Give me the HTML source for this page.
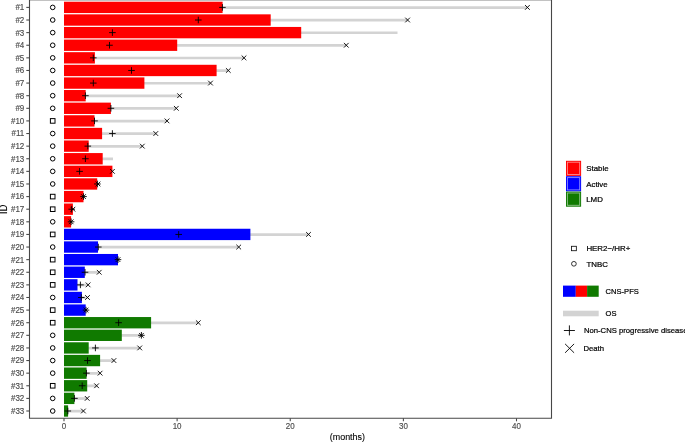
<!DOCTYPE html>
<html><head><meta charset="utf-8"><style>
html,body{margin:0;padding:0;background:#fff;width:685px;height:443px;overflow:hidden}
svg{display:block}
.tx{opacity:0.999}
text{font-family:"Liberation Sans",sans-serif}
.t{font-size:8px;fill:#4D4D4D;stroke:#4D4D4D;stroke-width:0.15px}
.l{font-size:7.9px;fill:#000;stroke:#000;stroke-width:0.22px}
.ti{font-size:9.6px;fill:#000;stroke:#000;stroke-width:0.12px}
</style></head><body>
<svg width="685" height="443" viewBox="0 0 685 443">
<line x1="64" y1="7.55" x2="527.4" y2="7.55" stroke="#D3D3D3" stroke-width="2.7"/>
<line x1="64" y1="20.16" x2="407.6" y2="20.16" stroke="#D3D3D3" stroke-width="2.7"/>
<line x1="64" y1="32.77" x2="397.5" y2="32.77" stroke="#D3D3D3" stroke-width="2.7"/>
<line x1="64" y1="45.39" x2="346.3" y2="45.39" stroke="#D3D3D3" stroke-width="2.7"/>
<line x1="64" y1="58" x2="244" y2="58" stroke="#D3D3D3" stroke-width="2.7"/>
<line x1="64" y1="70.61" x2="228.3" y2="70.61" stroke="#D3D3D3" stroke-width="2.7"/>
<line x1="64" y1="83.23" x2="210.5" y2="83.23" stroke="#D3D3D3" stroke-width="2.7"/>
<line x1="64" y1="95.84" x2="179.6" y2="95.84" stroke="#D3D3D3" stroke-width="2.7"/>
<line x1="64" y1="108.45" x2="176.3" y2="108.45" stroke="#D3D3D3" stroke-width="2.7"/>
<line x1="64" y1="121.06" x2="167" y2="121.06" stroke="#D3D3D3" stroke-width="2.7"/>
<line x1="64" y1="133.68" x2="155.8" y2="133.68" stroke="#D3D3D3" stroke-width="2.7"/>
<line x1="64" y1="146.29" x2="142.3" y2="146.29" stroke="#D3D3D3" stroke-width="2.7"/>
<line x1="64" y1="158.9" x2="113" y2="158.9" stroke="#D3D3D3" stroke-width="2.7"/>
<line x1="64" y1="171.51" x2="112.4" y2="171.51" stroke="#D3D3D3" stroke-width="2.7"/>
<line x1="64" y1="184.13" x2="98" y2="184.13" stroke="#D3D3D3" stroke-width="2.7"/>
<line x1="64" y1="196.74" x2="83.5" y2="196.74" stroke="#D3D3D3" stroke-width="2.7"/>
<line x1="64" y1="209.35" x2="72.9" y2="209.35" stroke="#D3D3D3" stroke-width="2.7"/>
<line x1="64" y1="221.96" x2="71.1" y2="221.96" stroke="#D3D3D3" stroke-width="2.7"/>
<line x1="64" y1="234.58" x2="308.5" y2="234.58" stroke="#D3D3D3" stroke-width="2.7"/>
<line x1="64" y1="247.19" x2="238.7" y2="247.19" stroke="#D3D3D3" stroke-width="2.7"/>
<line x1="64" y1="259.8" x2="118" y2="259.8" stroke="#D3D3D3" stroke-width="2.7"/>
<line x1="64" y1="272.41" x2="99.2" y2="272.41" stroke="#D3D3D3" stroke-width="2.7"/>
<line x1="64" y1="285.02" x2="88.1" y2="285.02" stroke="#D3D3D3" stroke-width="2.7"/>
<line x1="64" y1="297.64" x2="87.5" y2="297.64" stroke="#D3D3D3" stroke-width="2.7"/>
<line x1="64" y1="310.25" x2="86" y2="310.25" stroke="#D3D3D3" stroke-width="2.7"/>
<line x1="64" y1="322.86" x2="198.3" y2="322.86" stroke="#D3D3D3" stroke-width="2.7"/>
<line x1="64" y1="335.47" x2="141.4" y2="335.47" stroke="#D3D3D3" stroke-width="2.7"/>
<line x1="64" y1="348.09" x2="139.7" y2="348.09" stroke="#D3D3D3" stroke-width="2.7"/>
<line x1="64" y1="360.7" x2="113.9" y2="360.7" stroke="#D3D3D3" stroke-width="2.7"/>
<line x1="64" y1="373.31" x2="100.1" y2="373.31" stroke="#D3D3D3" stroke-width="2.7"/>
<line x1="64" y1="385.92" x2="96.6" y2="385.92" stroke="#D3D3D3" stroke-width="2.7"/>
<line x1="64" y1="398.54" x2="87.2" y2="398.54" stroke="#D3D3D3" stroke-width="2.7"/>
<line x1="64" y1="411.15" x2="83.4" y2="411.15" stroke="#D3D3D3" stroke-width="2.7"/>
<rect x="64" y="1.72" width="158.6" height="11.35" fill="#FF0000"/>
<rect x="64" y="14.34" width="206.7" height="11.35" fill="#FF0000"/>
<rect x="64" y="26.95" width="237.2" height="11.35" fill="#FF0000"/>
<rect x="64" y="39.56" width="113.2" height="11.35" fill="#FF0000"/>
<rect x="64" y="52.17" width="30.9" height="11.35" fill="#FF0000"/>
<rect x="64" y="64.79" width="152.6" height="11.35" fill="#FF0000"/>
<rect x="64" y="77.4" width="80.4" height="11.35" fill="#FF0000"/>
<rect x="64" y="90.01" width="21.7" height="11.35" fill="#FF0000"/>
<rect x="64" y="102.62" width="46.9" height="11.35" fill="#FF0000"/>
<rect x="64" y="115.24" width="30.5" height="11.35" fill="#FF0000"/>
<rect x="64" y="127.85" width="38.1" height="11.35" fill="#FF0000"/>
<rect x="64" y="140.46" width="24.7" height="11.35" fill="#FF0000"/>
<rect x="64" y="153.07" width="38.7" height="11.35" fill="#FF0000"/>
<rect x="64" y="165.69" width="48.4" height="11.35" fill="#FF0000"/>
<rect x="64" y="178.3" width="33.2" height="11.35" fill="#FF0000"/>
<rect x="64" y="190.91" width="19.5" height="11.35" fill="#FF0000"/>
<rect x="64" y="203.52" width="8.9" height="11.35" fill="#FF0000"/>
<rect x="64" y="216.14" width="7.1" height="11.35" fill="#FF0000"/>
<rect x="64" y="228.75" width="186.4" height="11.35" fill="#0000FF"/>
<rect x="64" y="241.36" width="34" height="11.35" fill="#0000FF"/>
<rect x="64" y="253.97" width="54" height="11.35" fill="#0000FF"/>
<rect x="64" y="266.59" width="20.8" height="11.35" fill="#0000FF"/>
<rect x="64" y="279.2" width="13.5" height="11.35" fill="#0000FF"/>
<rect x="64" y="291.81" width="17.9" height="11.35" fill="#0000FF"/>
<rect x="64" y="304.42" width="21.7" height="11.35" fill="#0000FF"/>
<rect x="64" y="317.04" width="87.1" height="11.35" fill="#107A00"/>
<rect x="64" y="329.65" width="57.8" height="11.35" fill="#107A00"/>
<rect x="64" y="342.26" width="24.7" height="11.35" fill="#107A00"/>
<rect x="64" y="354.87" width="36.1" height="11.35" fill="#107A00"/>
<rect x="64" y="367.49" width="22.6" height="11.35" fill="#107A00"/>
<rect x="64" y="380.1" width="23.2" height="11.35" fill="#107A00"/>
<rect x="64" y="392.71" width="10.4" height="11.35" fill="#107A00"/>
<rect x="64" y="405.32" width="4.1" height="11.35" fill="#107A00"/>
<path d="M219.1 7.4H225.7M222.4 4.1V10.7" stroke="#000" stroke-width="0.9" fill="none"/>
<path d="M525.05 5.05L529.75 9.75M525.05 9.75L529.75 5.05" stroke="#000" stroke-width="0.9" fill="none"/>
<circle cx="52.7" cy="7.4" r="2.3" stroke="#000" stroke-width="1" fill="none"/>
<path d="M195 20.01H201.6M198.3 16.71V23.31" stroke="#000" stroke-width="0.9" fill="none"/>
<path d="M405.25 17.66L409.95 22.36M405.25 22.36L409.95 17.66" stroke="#000" stroke-width="0.9" fill="none"/>
<circle cx="52.7" cy="20.01" r="2.3" stroke="#000" stroke-width="1" fill="none"/>
<path d="M109.1 32.62H115.7M112.4 29.32V35.92" stroke="#000" stroke-width="0.9" fill="none"/>
<circle cx="52.7" cy="32.62" r="2.3" stroke="#000" stroke-width="1" fill="none"/>
<path d="M106.2 45.24H112.8M109.5 41.94V48.54" stroke="#000" stroke-width="0.9" fill="none"/>
<path d="M343.95 42.89L348.65 47.59M343.95 47.59L348.65 42.89" stroke="#000" stroke-width="0.9" fill="none"/>
<circle cx="52.7" cy="45.24" r="2.3" stroke="#000" stroke-width="1" fill="none"/>
<path d="M90 57.85H96.6M93.3 54.55V61.15" stroke="#000" stroke-width="0.9" fill="none"/>
<path d="M241.65 55.5L246.35 60.2M241.65 60.2L246.35 55.5" stroke="#000" stroke-width="0.9" fill="none"/>
<circle cx="52.7" cy="57.85" r="2.3" stroke="#000" stroke-width="1" fill="none"/>
<path d="M128.2 70.46H134.8M131.5 67.16V73.76" stroke="#000" stroke-width="0.9" fill="none"/>
<path d="M225.95 68.11L230.65 72.81M225.95 72.81L230.65 68.11" stroke="#000" stroke-width="0.9" fill="none"/>
<circle cx="52.7" cy="70.46" r="2.3" stroke="#000" stroke-width="1" fill="none"/>
<path d="M90 83.08H96.6M93.3 79.78V86.38" stroke="#000" stroke-width="0.9" fill="none"/>
<path d="M208.15 80.73L212.85 85.43M208.15 85.43L212.85 80.73" stroke="#000" stroke-width="0.9" fill="none"/>
<circle cx="52.7" cy="83.08" r="2.3" stroke="#000" stroke-width="1" fill="none"/>
<path d="M82.1 95.69H88.7M85.4 92.39V98.99" stroke="#000" stroke-width="0.9" fill="none"/>
<path d="M177.25 93.34L181.95 98.04M177.25 98.04L181.95 93.34" stroke="#000" stroke-width="0.9" fill="none"/>
<circle cx="52.7" cy="95.69" r="2.3" stroke="#000" stroke-width="1" fill="none"/>
<path d="M107.6 108.3H114.2M110.9 105V111.6" stroke="#000" stroke-width="0.9" fill="none"/>
<path d="M173.95 105.95L178.65 110.65M173.95 110.65L178.65 105.95" stroke="#000" stroke-width="0.9" fill="none"/>
<circle cx="52.7" cy="108.3" r="2.3" stroke="#000" stroke-width="1" fill="none"/>
<path d="M91.2 120.91H97.8M94.5 117.61V124.21" stroke="#000" stroke-width="0.9" fill="none"/>
<path d="M164.65 118.56L169.35 123.26M164.65 123.26L169.35 118.56" stroke="#000" stroke-width="0.9" fill="none"/>
<rect x="50.4" y="118.61" width="4.6" height="4.6" stroke="#000" stroke-width="1" fill="none"/>
<path d="M109.1 133.53H115.7M112.4 130.22V136.83" stroke="#000" stroke-width="0.9" fill="none"/>
<path d="M153.45 131.18L158.15 135.88M153.45 135.88L158.15 131.18" stroke="#000" stroke-width="0.9" fill="none"/>
<circle cx="52.7" cy="133.53" r="2.3" stroke="#000" stroke-width="1" fill="none"/>
<path d="M84.5 146.14H91.1M87.8 142.84V149.44" stroke="#000" stroke-width="0.9" fill="none"/>
<path d="M139.95 143.79L144.65 148.49M139.95 148.49L144.65 143.79" stroke="#000" stroke-width="0.9" fill="none"/>
<circle cx="52.7" cy="146.14" r="2.3" stroke="#000" stroke-width="1" fill="none"/>
<path d="M82.1 158.75H88.7M85.4 155.45V162.05" stroke="#000" stroke-width="0.9" fill="none"/>
<circle cx="52.7" cy="158.75" r="2.3" stroke="#000" stroke-width="1" fill="none"/>
<path d="M76.3 171.36H82.9M79.6 168.06V174.66" stroke="#000" stroke-width="0.9" fill="none"/>
<path d="M110.05 169.01L114.75 173.71M110.05 173.71L114.75 169.01" stroke="#000" stroke-width="0.9" fill="none"/>
<circle cx="52.7" cy="171.36" r="2.3" stroke="#000" stroke-width="1" fill="none"/>
<path d="M94.1 183.98H100.7M97.4 180.68V187.28" stroke="#000" stroke-width="0.9" fill="none"/>
<path d="M95.65 181.63L100.35 186.33M95.65 186.33L100.35 181.63" stroke="#000" stroke-width="0.9" fill="none"/>
<circle cx="52.7" cy="183.98" r="2.3" stroke="#000" stroke-width="1" fill="none"/>
<path d="M80.2 196.59H86.8M83.5 193.29V199.89" stroke="#000" stroke-width="0.9" fill="none"/>
<path d="M81.15 194.24L85.85 198.94M81.15 198.94L85.85 194.24" stroke="#000" stroke-width="0.9" fill="none"/>
<rect x="50.4" y="194.29" width="4.6" height="4.6" stroke="#000" stroke-width="1" fill="none"/>
<path d="M68.4 209.2H75M71.7 205.9V212.5" stroke="#000" stroke-width="0.9" fill="none"/>
<path d="M70.55 206.85L75.25 211.55M70.55 211.55L75.25 206.85" stroke="#000" stroke-width="0.9" fill="none"/>
<rect x="50.4" y="206.9" width="4.6" height="4.6" stroke="#000" stroke-width="1" fill="none"/>
<path d="M67.8 221.81H74.4M71.1 218.51V225.11" stroke="#000" stroke-width="0.9" fill="none"/>
<path d="M68.75 219.46L73.45 224.16M68.75 224.16L73.45 219.46" stroke="#000" stroke-width="0.9" fill="none"/>
<circle cx="52.7" cy="221.81" r="2.3" stroke="#000" stroke-width="1" fill="none"/>
<path d="M175.4 234.43H182M178.7 231.12V237.73" stroke="#000" stroke-width="0.9" fill="none"/>
<path d="M306.15 232.08L310.85 236.78M306.15 236.78L310.85 232.08" stroke="#000" stroke-width="0.9" fill="none"/>
<rect x="50.4" y="232.12" width="4.6" height="4.6" stroke="#000" stroke-width="1" fill="none"/>
<path d="M95 247.04H101.6M98.3 243.74V250.34" stroke="#000" stroke-width="0.9" fill="none"/>
<path d="M236.35 244.69L241.05 249.39M236.35 249.39L241.05 244.69" stroke="#000" stroke-width="0.9" fill="none"/>
<circle cx="52.7" cy="247.04" r="2.3" stroke="#000" stroke-width="1" fill="none"/>
<path d="M114.7 259.65H121.3M118 256.35V262.95" stroke="#000" stroke-width="0.9" fill="none"/>
<path d="M115.65 257.3L120.35 262M115.65 262L120.35 257.3" stroke="#000" stroke-width="0.9" fill="none"/>
<rect x="50.4" y="257.35" width="4.6" height="4.6" stroke="#000" stroke-width="1" fill="none"/>
<path d="M81.7 272.26H88.3M85 268.96V275.56" stroke="#000" stroke-width="0.9" fill="none"/>
<path d="M96.85 269.91L101.55 274.61M96.85 274.61L101.55 269.91" stroke="#000" stroke-width="0.9" fill="none"/>
<rect x="50.4" y="269.96" width="4.6" height="4.6" stroke="#000" stroke-width="1" fill="none"/>
<path d="M77.1 284.88H83.7M80.4 281.57V288.18" stroke="#000" stroke-width="0.9" fill="none"/>
<path d="M85.75 282.52L90.45 287.23M85.75 287.23L90.45 282.52" stroke="#000" stroke-width="0.9" fill="none"/>
<rect x="50.4" y="282.57" width="4.6" height="4.6" stroke="#000" stroke-width="1" fill="none"/>
<path d="M78 297.49H84.6M81.3 294.19V300.79" stroke="#000" stroke-width="0.9" fill="none"/>
<path d="M85.15 295.14L89.85 299.84M85.15 299.84L89.85 295.14" stroke="#000" stroke-width="0.9" fill="none"/>
<circle cx="52.7" cy="297.49" r="2.3" stroke="#000" stroke-width="1" fill="none"/>
<path d="M82.7 310.1H89.3M86 306.8V313.4" stroke="#000" stroke-width="0.9" fill="none"/>
<path d="M83.65 307.75L88.35 312.45M83.65 312.45L88.35 307.75" stroke="#000" stroke-width="0.9" fill="none"/>
<rect x="50.4" y="307.8" width="4.6" height="4.6" stroke="#000" stroke-width="1" fill="none"/>
<path d="M115.3 322.71H121.9M118.6 319.41V326.01" stroke="#000" stroke-width="0.9" fill="none"/>
<path d="M195.95 320.36L200.65 325.06M195.95 325.06L200.65 320.36" stroke="#000" stroke-width="0.9" fill="none"/>
<rect x="50.4" y="320.41" width="4.6" height="4.6" stroke="#000" stroke-width="1" fill="none"/>
<path d="M138.1 335.32H144.7M141.4 332.02V338.62" stroke="#000" stroke-width="0.9" fill="none"/>
<path d="M139.05 332.97L143.75 337.68M139.05 337.68L143.75 332.97" stroke="#000" stroke-width="0.9" fill="none"/>
<circle cx="52.7" cy="335.32" r="2.3" stroke="#000" stroke-width="1" fill="none"/>
<path d="M92.1 347.94H98.7M95.4 344.64V351.24" stroke="#000" stroke-width="0.9" fill="none"/>
<path d="M137.35 345.59L142.05 350.29M137.35 350.29L142.05 345.59" stroke="#000" stroke-width="0.9" fill="none"/>
<circle cx="52.7" cy="347.94" r="2.3" stroke="#000" stroke-width="1" fill="none"/>
<path d="M84.2 360.55H90.8M87.5 357.25V363.85" stroke="#000" stroke-width="0.9" fill="none"/>
<path d="M111.55 358.2L116.25 362.9M111.55 362.9L116.25 358.2" stroke="#000" stroke-width="0.9" fill="none"/>
<circle cx="52.7" cy="360.55" r="2.3" stroke="#000" stroke-width="1" fill="none"/>
<path d="M83.1 373.16H89.7M86.4 369.86V376.46" stroke="#000" stroke-width="0.9" fill="none"/>
<path d="M97.75 370.81L102.45 375.51M97.75 375.51L102.45 370.81" stroke="#000" stroke-width="0.9" fill="none"/>
<circle cx="52.7" cy="373.16" r="2.3" stroke="#000" stroke-width="1" fill="none"/>
<path d="M78.9 385.77H85.5M82.2 382.47V389.07" stroke="#000" stroke-width="0.9" fill="none"/>
<path d="M94.25 383.42L98.95 388.12M94.25 388.12L98.95 383.42" stroke="#000" stroke-width="0.9" fill="none"/>
<rect x="50.4" y="383.47" width="4.6" height="4.6" stroke="#000" stroke-width="1" fill="none"/>
<path d="M71.1 398.39H77.7M74.4 395.09V401.69" stroke="#000" stroke-width="0.9" fill="none"/>
<path d="M84.85 396.04L89.55 400.74M84.85 400.74L89.55 396.04" stroke="#000" stroke-width="0.9" fill="none"/>
<circle cx="52.7" cy="398.39" r="2.3" stroke="#000" stroke-width="1" fill="none"/>
<path d="M64.5 411H71.1M67.8 407.7V414.3" stroke="#000" stroke-width="0.9" fill="none"/>
<path d="M81.05 408.65L85.75 413.35M81.05 413.35L85.75 408.65" stroke="#000" stroke-width="0.9" fill="none"/>
<circle cx="52.7" cy="411" r="2.3" stroke="#000" stroke-width="1" fill="none"/>
<rect x="29" y="0" width="523" height="1" fill="#C2C2C2"/>
<path d="M29.5 0V418.3H551.5V0" stroke="#474747" stroke-width="1.1" fill="none"/>
<line x1="26.3" y1="7.4" x2="29.5" y2="7.4" stroke="#474747" stroke-width="1.07"/>
<line x1="26.3" y1="20.01" x2="29.5" y2="20.01" stroke="#474747" stroke-width="1.07"/>
<line x1="26.3" y1="32.62" x2="29.5" y2="32.62" stroke="#474747" stroke-width="1.07"/>
<line x1="26.3" y1="45.24" x2="29.5" y2="45.24" stroke="#474747" stroke-width="1.07"/>
<line x1="26.3" y1="57.85" x2="29.5" y2="57.85" stroke="#474747" stroke-width="1.07"/>
<line x1="26.3" y1="70.46" x2="29.5" y2="70.46" stroke="#474747" stroke-width="1.07"/>
<line x1="26.3" y1="83.08" x2="29.5" y2="83.08" stroke="#474747" stroke-width="1.07"/>
<line x1="26.3" y1="95.69" x2="29.5" y2="95.69" stroke="#474747" stroke-width="1.07"/>
<line x1="26.3" y1="108.3" x2="29.5" y2="108.3" stroke="#474747" stroke-width="1.07"/>
<line x1="26.3" y1="120.91" x2="29.5" y2="120.91" stroke="#474747" stroke-width="1.07"/>
<line x1="26.3" y1="133.53" x2="29.5" y2="133.53" stroke="#474747" stroke-width="1.07"/>
<line x1="26.3" y1="146.14" x2="29.5" y2="146.14" stroke="#474747" stroke-width="1.07"/>
<line x1="26.3" y1="158.75" x2="29.5" y2="158.75" stroke="#474747" stroke-width="1.07"/>
<line x1="26.3" y1="171.36" x2="29.5" y2="171.36" stroke="#474747" stroke-width="1.07"/>
<line x1="26.3" y1="183.98" x2="29.5" y2="183.98" stroke="#474747" stroke-width="1.07"/>
<line x1="26.3" y1="196.59" x2="29.5" y2="196.59" stroke="#474747" stroke-width="1.07"/>
<line x1="26.3" y1="209.2" x2="29.5" y2="209.2" stroke="#474747" stroke-width="1.07"/>
<line x1="26.3" y1="221.81" x2="29.5" y2="221.81" stroke="#474747" stroke-width="1.07"/>
<line x1="26.3" y1="234.43" x2="29.5" y2="234.43" stroke="#474747" stroke-width="1.07"/>
<line x1="26.3" y1="247.04" x2="29.5" y2="247.04" stroke="#474747" stroke-width="1.07"/>
<line x1="26.3" y1="259.65" x2="29.5" y2="259.65" stroke="#474747" stroke-width="1.07"/>
<line x1="26.3" y1="272.26" x2="29.5" y2="272.26" stroke="#474747" stroke-width="1.07"/>
<line x1="26.3" y1="284.88" x2="29.5" y2="284.88" stroke="#474747" stroke-width="1.07"/>
<line x1="26.3" y1="297.49" x2="29.5" y2="297.49" stroke="#474747" stroke-width="1.07"/>
<line x1="26.3" y1="310.1" x2="29.5" y2="310.1" stroke="#474747" stroke-width="1.07"/>
<line x1="26.3" y1="322.71" x2="29.5" y2="322.71" stroke="#474747" stroke-width="1.07"/>
<line x1="26.3" y1="335.32" x2="29.5" y2="335.32" stroke="#474747" stroke-width="1.07"/>
<line x1="26.3" y1="347.94" x2="29.5" y2="347.94" stroke="#474747" stroke-width="1.07"/>
<line x1="26.3" y1="360.55" x2="29.5" y2="360.55" stroke="#474747" stroke-width="1.07"/>
<line x1="26.3" y1="373.16" x2="29.5" y2="373.16" stroke="#474747" stroke-width="1.07"/>
<line x1="26.3" y1="385.77" x2="29.5" y2="385.77" stroke="#474747" stroke-width="1.07"/>
<line x1="26.3" y1="398.39" x2="29.5" y2="398.39" stroke="#474747" stroke-width="1.07"/>
<line x1="26.3" y1="411" x2="29.5" y2="411" stroke="#474747" stroke-width="1.07"/>
<line x1="64" y1="418.3" x2="64" y2="421.3" stroke="#474747" stroke-width="1.07"/>
<line x1="177.12" y1="418.3" x2="177.12" y2="421.3" stroke="#474747" stroke-width="1.07"/>
<line x1="290.25" y1="418.3" x2="290.25" y2="421.3" stroke="#474747" stroke-width="1.07"/>
<line x1="403.38" y1="418.3" x2="403.38" y2="421.3" stroke="#474747" stroke-width="1.07"/>
<line x1="516.5" y1="418.3" x2="516.5" y2="421.3" stroke="#474747" stroke-width="1.07"/>
<rect x="566" y="160.8" width="15.1" height="15.1" fill="#FF0000"/>
<rect x="567.4" y="162.2" width="12.3" height="12.3" fill="none" stroke="rgba(255,255,255,0.55)" stroke-width="0.9"/>
<rect x="566" y="176.2" width="15.1" height="15.1" fill="#0000FF"/>
<rect x="567.4" y="177.6" width="12.3" height="12.3" fill="none" stroke="rgba(255,255,255,0.55)" stroke-width="0.9"/>
<rect x="566" y="191.6" width="15.1" height="15.1" fill="#107A00"/>
<rect x="567.4" y="193" width="12.3" height="12.3" fill="none" stroke="rgba(255,255,255,0.55)" stroke-width="0.9"/>
<rect x="571.45" y="246.3" width="4.9" height="4.4" stroke="#111" stroke-width="0.85" fill="none"/>
<circle cx="573.9" cy="263.8" r="2.35" stroke="#111" stroke-width="0.85" fill="none"/>
<rect x="563" y="285.6" width="12.8" height="11.2" fill="#0000FF"/>
<rect x="575.8" y="285.6" width="11.3" height="11.2" fill="#FF0000"/>
<rect x="587.1" y="285.6" width="11.6" height="11.2" fill="#107A00"/>
<rect x="563" y="310.7" width="35.7" height="5.6" fill="#D3D3D3"/>
<path d="M563.9 330.5H574.9M569.4 325.4V335.4" stroke="#000" stroke-width="0.9" fill="none"/>
<path d="M565.1 343.9L574.1 352.8M565.1 352.8L574.1 343.9" stroke="#000" stroke-width="0.9" fill="none"/>
<g class="tx">
<text transform="translate(24.3,10.3) scale(1.0,1.12)" text-anchor="end" class="t">#1</text>
<text transform="translate(24.3,22.91) scale(1.0,1.12)" text-anchor="end" class="t">#2</text>
<text transform="translate(24.3,35.52) scale(1.0,1.12)" text-anchor="end" class="t">#3</text>
<text transform="translate(24.3,48.14) scale(1.0,1.12)" text-anchor="end" class="t">#4</text>
<text transform="translate(24.3,60.75) scale(1.0,1.12)" text-anchor="end" class="t">#5</text>
<text transform="translate(24.3,73.36) scale(1.0,1.12)" text-anchor="end" class="t">#6</text>
<text transform="translate(24.3,85.98) scale(1.0,1.12)" text-anchor="end" class="t">#7</text>
<text transform="translate(24.3,98.59) scale(1.0,1.12)" text-anchor="end" class="t">#8</text>
<text transform="translate(24.3,111.2) scale(1.0,1.12)" text-anchor="end" class="t">#9</text>
<text transform="translate(24.3,123.81) scale(1.0,1.12)" text-anchor="end" class="t">#10</text>
<text transform="translate(24.3,136.43) scale(1.0,1.12)" text-anchor="end" class="t">#11</text>
<text transform="translate(24.3,149.04) scale(1.0,1.12)" text-anchor="end" class="t">#12</text>
<text transform="translate(24.3,161.65) scale(1.0,1.12)" text-anchor="end" class="t">#13</text>
<text transform="translate(24.3,174.26) scale(1.0,1.12)" text-anchor="end" class="t">#14</text>
<text transform="translate(24.3,186.88) scale(1.0,1.12)" text-anchor="end" class="t">#15</text>
<text transform="translate(24.3,199.49) scale(1.0,1.12)" text-anchor="end" class="t">#16</text>
<text transform="translate(24.3,212.1) scale(1.0,1.12)" text-anchor="end" class="t">#17</text>
<text transform="translate(24.3,224.71) scale(1.0,1.12)" text-anchor="end" class="t">#18</text>
<text transform="translate(24.3,237.33) scale(1.0,1.12)" text-anchor="end" class="t">#19</text>
<text transform="translate(24.3,249.94) scale(1.0,1.12)" text-anchor="end" class="t">#20</text>
<text transform="translate(24.3,262.55) scale(1.0,1.12)" text-anchor="end" class="t">#21</text>
<text transform="translate(24.3,275.16) scale(1.0,1.12)" text-anchor="end" class="t">#22</text>
<text transform="translate(24.3,287.77) scale(1.0,1.12)" text-anchor="end" class="t">#23</text>
<text transform="translate(24.3,300.39) scale(1.0,1.12)" text-anchor="end" class="t">#24</text>
<text transform="translate(24.3,313) scale(1.0,1.12)" text-anchor="end" class="t">#25</text>
<text transform="translate(24.3,325.61) scale(1.0,1.12)" text-anchor="end" class="t">#26</text>
<text transform="translate(24.3,338.22) scale(1.0,1.12)" text-anchor="end" class="t">#27</text>
<text transform="translate(24.3,350.84) scale(1.0,1.12)" text-anchor="end" class="t">#28</text>
<text transform="translate(24.3,363.45) scale(1.0,1.12)" text-anchor="end" class="t">#29</text>
<text transform="translate(24.3,376.06) scale(1.0,1.12)" text-anchor="end" class="t">#30</text>
<text transform="translate(24.3,388.67) scale(1.0,1.12)" text-anchor="end" class="t">#31</text>
<text transform="translate(24.3,401.29) scale(1.0,1.12)" text-anchor="end" class="t">#32</text>
<text transform="translate(24.3,413.9) scale(1.0,1.12)" text-anchor="end" class="t">#33</text>
<text transform="translate(64,428.9) scale(1.0,1.12)" text-anchor="middle" class="t">0</text>
<text transform="translate(177.12,428.9) scale(1.0,1.12)" text-anchor="middle" class="t">10</text>
<text transform="translate(290.25,428.9) scale(1.0,1.12)" text-anchor="middle" class="t">20</text>
<text transform="translate(403.38,428.9) scale(1.0,1.12)" text-anchor="middle" class="t">30</text>
<text transform="translate(516.5,428.9) scale(1.0,1.12)" text-anchor="middle" class="t">40</text>
<text transform="translate(347.4,440.1) scale(0.93,1.0)" text-anchor="middle" class="ti">(months)</text>
<text transform="translate(6.9,209.3) rotate(-90) scale(1,1.12)" text-anchor="middle" class="ti">ID</text>
<text transform="translate(586.2,171.2)" text-anchor="start" class="l">Stable</text>
<text transform="translate(586.2,186.6)" text-anchor="start" class="l">Active</text>
<text transform="translate(586.2,202.2)" text-anchor="start" class="l">LMD</text>
<text transform="translate(586.4,251.2)" text-anchor="start" class="l">HER2−/HR+</text>
<text transform="translate(586.4,266.8)" text-anchor="start" class="l">TNBC</text>
<text transform="translate(605.6,294) scale(0.96,1.0)" text-anchor="start" class="l">CNS-PFS</text>
<text transform="translate(605.6,316.1) scale(0.96,1.0)" text-anchor="start" class="l">OS</text>
<text transform="translate(583.9,332.8) scale(0.975,1.0)" text-anchor="start" class="l">Non-CNS progressive disease</text>
<text transform="translate(583.4,350.9) scale(0.98,1.0)" text-anchor="start" class="l">Death</text>
</g>
</svg>
</body></html>
